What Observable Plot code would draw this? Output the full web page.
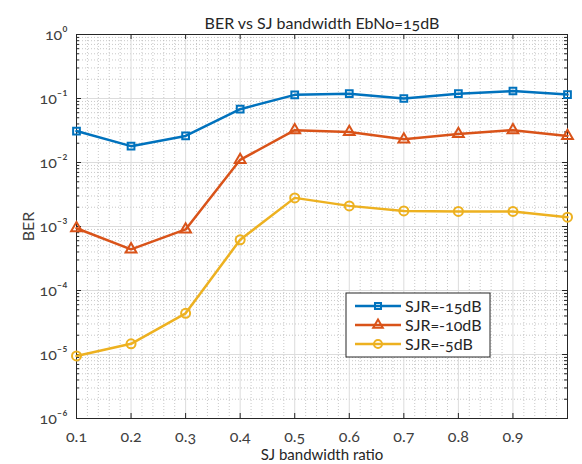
<!DOCTYPE html>
<html>
<head>
<meta charset="utf-8">
<script src="https://cdn.jsdelivr.net/npm/d3@7"></script>
<script src="https://cdn.jsdelivr.net/npm/@observablehq/plot@0.6"></script>
<style>
  body { margin: 0; background: #fff; }
  #chart svg { font-family: Lato, "Open Sans", sans-serif; font-feature-settings: "onum"; }
</style>
</head>
<body>
<div id="chart"></div>
<script>
const ratios = [0.1, 0.2, 0.3, 0.4, 0.5, 0.6, 0.7, 0.8, 0.9, 1.0];
const berSJRm15 = [0.031, 0.018, 0.026, 0.068, 0.114, 0.119, 0.100, 0.119, 0.131, 0.115];
const berSJRm10 = [9.4e-4, 4.4e-4, 9.0e-4, 0.011, 0.032, 0.030, 0.023, 0.028, 0.032, 0.026];
const berSJRm5 = [9.5e-6, 1.47e-5, 4.4e-5, 6.2e-4, 2.8e-3, 2.1e-3, 1.75e-3, 1.72e-3, 1.72e-3, 1.4e-3];
const seriesNames = ["SJR=-15dB", "SJR=-10dB", "SJR=-5dB"];
const seriesColors = ["#0072BD", "#D95319", "#EDB120"];
const seriesSymbols = ["square", "triangle", "circle"];
const seriesR = [3.8, 4, 4.5];
const xTicks = [0.1, 0.2, 0.3, 0.4, 0.5, 0.6, 0.7, 0.8, 0.9, 1.0];
const xTickLabels = ["0.1", "0.2", "0.3", "0.4", "0.5", "0.6", "0.7", "0.8", "0.9", ""];
const yTicks = [1e-6, 1e-5, 1e-4, 1e-3, 1e-2, 1e-1, 1];
const title = "BER vs SJ bandwidth EbNo=15dB";
const xLabel = "SJ bandwidth ratio";
const yLabel = "BER";

const allSeries = [berSJRm15, berSJRm10, berSJRm5];
const rows = [];
allSeries.forEach((vals, s) => vals.forEach((v, i) => rows.push({x: ratios[i], y: v, s})));

const xMinor = d3.range(10, 101, 2).map(d => d / 100).filter(d => !xTicks.some(t => Math.abs(t - d) < 1e-9));
const yMinor = [];
for (let e = -6; e < 0; e++) for (let m = 2; m <= 9; m++) yMinor.push(m * Math.pow(10, e));

const sup = {"-": "\u207B", "0": "\u2070", "1": "\u00B9", "2": "\u00B2", "3": "\u00B3", "4": "\u2074", "5": "\u2075", "6": "\u2076", "7": "\u2077", "8": "\u2078", "9": "\u2079"};
const fmtPow = d => "10" + String(Math.round(Math.log10(d))).split("").map(c => sup[c]).join("");

const W = 582, H = 464, mL = 76, mR = 15, mT = 34, mB = 46;
const innerW = W - mL - mR, innerH = H - mT - mB;
const ink = "#262626";

const marks = [
  Plot.gridX(xMinor, {stroke: "#b0b0b0", strokeOpacity: 0.7, strokeDasharray: "1,2"}),
  Plot.gridY(yMinor, {stroke: "#b0b0b0", strokeOpacity: 0.7, strokeDasharray: "1,2"}),
  Plot.gridX(xTicks, {stroke: "#dcdcdc", strokeOpacity: 1}),
  Plot.gridY(yTicks, {stroke: "#dcdcdc", strokeOpacity: 1}),
  // inward ticks
  Plot.ruleX(xTicks, {stroke: ink, insetTop: innerH - 5}),
  Plot.ruleX(xTicks, {stroke: ink, insetBottom: innerH - 5}),
  Plot.ruleY(yTicks, {stroke: ink, insetRight: innerW - 5}),
  Plot.ruleY(yTicks, {stroke: ink, insetLeft: innerW - 5}),
  Plot.ruleY(yMinor, {stroke: ink, insetRight: innerW - 3}),
  Plot.ruleY(yMinor, {stroke: ink, insetLeft: innerW - 3}),
  Plot.frame({stroke: ink, strokeWidth: 1}),
  Plot.axisX(xTicks, {tickSize: 0, tickPadding: 12, tickFormat: (d, i) => xTickLabels[i], fill: "#404040", fontSize: 16, label: null}),
  Plot.axisX({tickSize: 0, ticks: [], label: xLabel, labelAnchor: "center", labelArrow: "none", labelOffset: 41, fontSize: 15}),
  Plot.axisY(yTicks, {tickSize: 0, tickPadding: 9, tickFormat: fmtPow, fill: "#404040", fontSize: 16,
    label: yLabel, labelAnchor: "center", labelArrow: "none", labelOffset: 54}),
];
allSeries.forEach((vals, s) => {
  const data = rows.filter(r => r.s === s);
  marks.push(Plot.line(data, {x: "x", y: "y", stroke: seriesColors[s], strokeWidth: 2.5}));
  marks.push(Plot.dot(data, {x: "x", y: "y", stroke: seriesColors[s], strokeWidth: 2, fill: "none", symbol: seriesSymbols[s], r: seriesR[s]}));
});
marks.push(Plot.text([title], {frameAnchor: "top", dy: -17, fontSize: 16, fill: "#262626"}));

const chart = Plot.plot({
  width: W, height: H,
  marginLeft: mL, marginRight: mR, marginTop: mT, marginBottom: mB,
  style: {fontSize: "16px", color: "#262626", background: "#fff"},
  x: {domain: [0.1, 1.0]},
  y: {type: "log", domain: [1e-6, 1]},
  marks
});
document.getElementById("chart").appendChild(chart);

// legend
const svg = d3.select(chart);
const lg = svg.append("g").attr("transform", "translate(346,293)");
lg.append("rect").attr("width", 144).attr("height", 64).attr("fill", "#fff").attr("stroke", ink).attr("stroke-width", 1);
seriesNames.forEach((name, s) => {
  const cy = 13 + s * 19;
  const g = lg.append("g");
  g.append("line").attr("x1", 9).attr("x2", 55).attr("y1", cy).attr("y2", cy)
    .attr("stroke", seriesColors[s]).attr("stroke-width", 2.5);
  g.append("path").attr("d", d3.symbol(
      s === 0 ? d3.symbolSquare : s === 1 ? d3.symbolTriangle : d3.symbolCircle,
      Math.PI * seriesR[s] * seriesR[s] * 0.8)())
    .attr("transform", `translate(32,${cy})`)
    .attr("fill", "none").attr("stroke", seriesColors[s]).attr("stroke-width", 2);
  g.append("text").attr("x", 59).attr("y", cy).attr("dy", "0.35em").attr("text-anchor", "start")
    .attr("font-size", 16).attr("fill", ink).text(name);
});
</script>
</body>
</html>
